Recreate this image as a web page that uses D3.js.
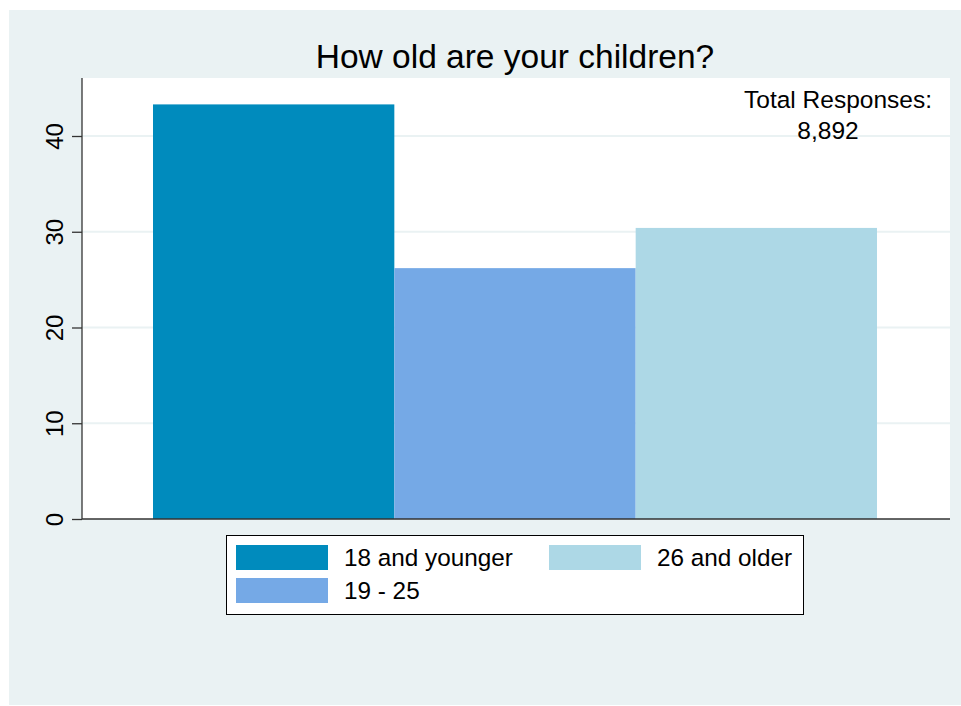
<!DOCTYPE html>
<html><head><meta charset="utf-8">
<script src="https://cdn.jsdelivr.net/npm/d3@7"></script>
<style>body{margin:0;background:#fff;font-family:"Liberation Sans",Arial,sans-serif}</style>
</head><body><svg id="c" width="961" height="706"></svg>
<script>
const categories = ["18 and younger", "19 - 25", "26 and older"];
const values = [43.3, 26.2, 30.4];
const colors = ["#008BBD", "#75A9E6", "#ADD8E6"];
const yTicks = [0, 10, 20, 30, 40];
const title = "How old are your children?";
const note = ["Total Responses:", "8,892"];

const svg = d3.select("#c");
svg.append("rect").attr("x", 9).attr("y", 10).attr("width", 952).attr("height", 695).attr("fill", "#EAF2F3");

const L = 82, R = 950, T = 78, B = 519;
svg.append("rect").attr("x", L).attr("y", T).attr("width", R - L).attr("height", B - T).attr("fill", "#fff");

const y = d3.scaleLinear().domain([0, 40]).range([B, 136]);
const x = d3.scaleBand().domain(categories).range([153, 877]).padding(0);

// gridlines
svg.append("g").selectAll("line").data(yTicks.slice(1)).join("line")
  .attr("x1", L).attr("x2", R).attr("y1", d => y(d)).attr("y2", d => y(d))
  .attr("stroke", "#EAF2F3").attr("stroke-width", 2);

// bars
svg.append("g").selectAll("rect").data(categories).join("rect")
  .attr("x", d => x(d)).attr("width", x.bandwidth())
  .attr("y", (d, i) => y(values[i])).attr("height", (d, i) => B - y(values[i]))
  .attr("fill", (d, i) => colors[i]);

// y axis
const ax = svg.append("g").attr("transform", `translate(${L},0)`)
  .call(d3.axisLeft(y).tickValues(yTicks).tickSize(10).tickPadding(0).tickFormat(d3.format("d")));
ax.select(".domain").attr("d", `M0,${T}V${B}`).attr("stroke", "#333").attr("stroke-width", 1.3);
ax.selectAll(".tick line").attr("stroke", "#333").attr("stroke-width", 1.3);
ax.selectAll(".tick text")
  .attr("font-family", "Liberation Sans, Arial, sans-serif").attr("font-size", 24).attr("fill", "#000")
  .attr("transform", "translate(-27,0) rotate(-90)").attr("x", 0).attr("y", 0)
  .attr("text-anchor", "middle").attr("dy", "0.35em");

// x axis line
svg.append("line").attr("x1", L).attr("x2", R).attr("y1", B).attr("y2", B)
  .attr("stroke", "#333").attr("stroke-width", 1.5);

// title
svg.append("text").attr("x", 515).attr("y", 68).attr("text-anchor", "middle")
  .attr("font-size", 33.5).attr("fill", "#000").text(title);

// note
svg.selectAll(".note").data(note).join("text").attr("class", "note")
  .attr("x", (d, i) => i === 0 ? 838 : 828).attr("y", (d, i) => 108 + i * 31).attr("text-anchor", "middle")
  .attr("font-size", 24.5).attr("fill", "#000").text(d => d);

// legend
const lg = svg.append("g");
lg.append("rect").attr("x", 226.5).attr("y", 535.5).attr("width", 577).attr("height", 79)
  .attr("fill", "#fff").attr("stroke", "#000").attr("stroke-width", 1);
const pos = [[236, 545], [236, 578], [549, 545]];
categories.forEach((c, i) => {
  lg.append("rect").attr("x", pos[i][0]).attr("y", pos[i][1]).attr("width", 92).attr("height", 25).attr("fill", colors[i]);
  lg.append("text").attr("x", pos[i][0] + 108).attr("y", pos[i][1] + 21)
    .attr("font-size", 24.3).attr("fill", "#000").text(c);
});
</script></body></html>
